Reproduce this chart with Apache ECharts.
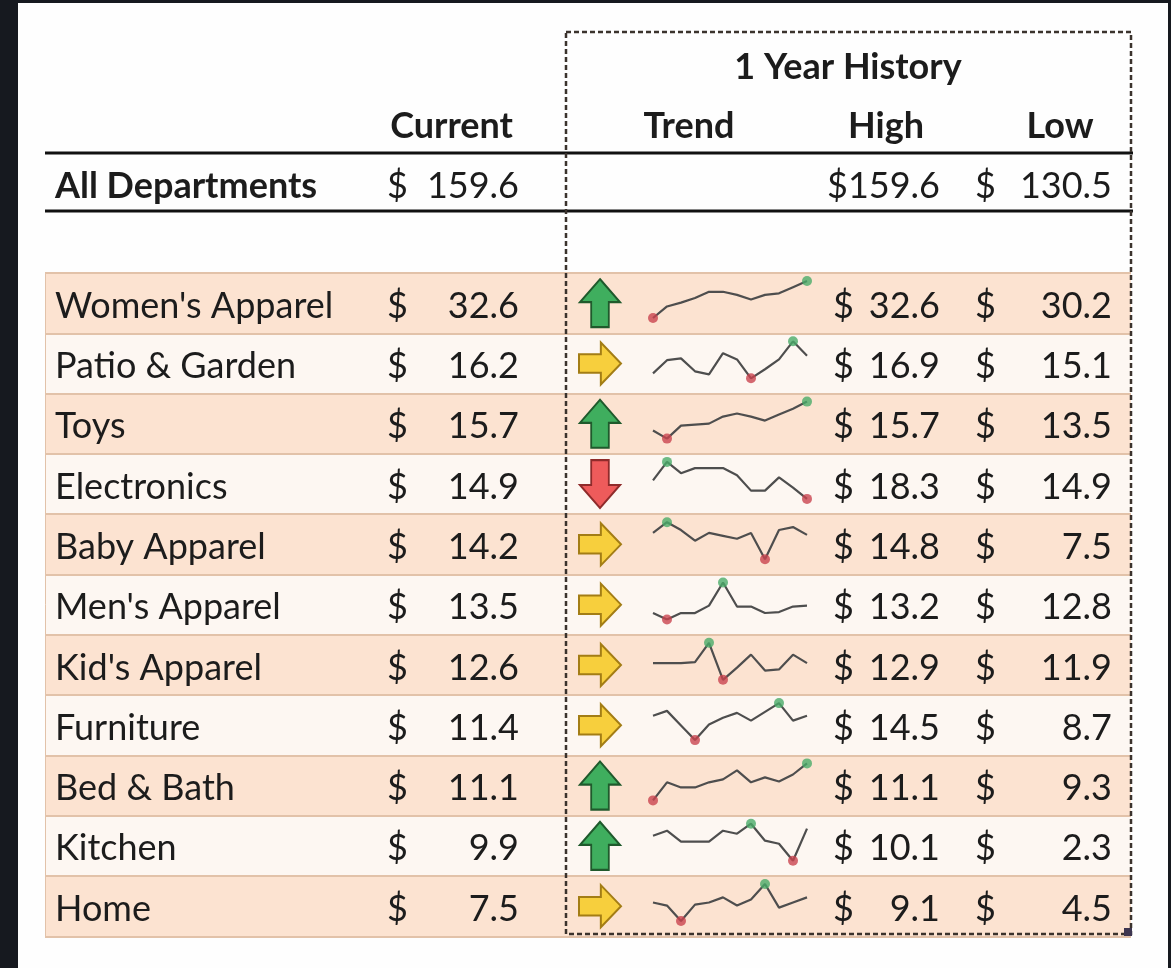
<!DOCTYPE html>
<html>
<head>
<meta charset="utf-8">
<script src="https://cdn.jsdelivr.net/npm/echarts@6/dist/echarts.min.js"></script>
<style>
html, body { margin: 0; padding: 0; background: #16191f; }
#wrap { position: relative; width: 1171px; height: 968px; background: #16191f; }
#paper { position: absolute; left: 18px; top: 3px; width: 1150px; height: 965px; background: #fefefe; }
#main { position: absolute; left: 0; top: 0; width: 1171px; height: 968px; }
</style>
</head>
<body>
<div id="wrap">
    <div id="paper"></div>
    <div id="main"></div>
</div>
<script>
// departments, current value and 1 year high / low
const departments = ["Women's Apparel", 'Patio & Garden', 'Toys', 'Electronics', 'Baby Apparel',
    "Men's Apparel", "Kid's Apparel", 'Furniture', 'Bed & Bath', 'Kitchen', 'Home'];
const current = [32.6, 16.2, 15.7, 14.9, 14.2, 13.5, 12.6, 11.4, 11.1, 9.9, 7.5];
const high = [32.6, 16.9, 15.7, 18.3, 14.8, 13.2, 12.9, 14.5, 11.1, 10.1, 9.1];
const low = [30.2, 15.1, 13.5, 14.9, 7.5, 12.8, 11.9, 8.7, 9.3, 2.3, 4.5];
const trend = ['up', 'right', 'up', 'down', 'right', 'right', 'right', 'right', 'up', 'up', 'right'];
const totalCurrent = 159.6;
const totalHigh = 159.6;
const totalLow = 130.5;

// monthly history (sparklines)
const womensApparel = [30.2, 30.95, 31.2, 31.5, 31.9, 31.9, 31.7, 31.4, 31.7, 31.8, 32.2, 32.6];
const patioGarden = [15.34, 15.98, 16.07, 15.44, 15.29, 16.32, 16.02, 15.1, 15.54, 16.02, 16.9, 16.2];
const toys = [13.98, 13.5, 14.27, 14.33, 14.39, 14.81, 14.99, 14.81, 14.57, 14.93, 15.28, 15.7];
const electronics = [16.6, 18.3, 17.26, 17.73, 17.73, 17.73, 17.07, 15.66, 15.66, 16.88, 15.94, 14.9];
const babyApparel = [12.69, 14.8, 13.26, 11.15, 12.69, 12.11, 11.53, 12.69, 7.5, 13.26, 13.84, 12.3];
const mensApparel = [12.87, 12.8, 12.87, 12.87, 12.95, 13.2, 12.94, 12.94, 12.87, 12.88, 12.94, 12.95];
const kidsApparel = [12.35, 12.35, 12.35, 12.38, 12.9, 11.9, 12.23, 12.58, 12.15, 12.18, 12.58, 12.35];
const furniture = [12.52, 13.28, 10.99, 8.7, 11.14, 12.21, 12.97, 11.75, 13.13, 14.5, 11.75, 12.52];
const bedBath = [9.3, 10.18, 9.93, 9.93, 10.18, 10.32, 10.76, 10.18, 10.42, 10.22, 10.56, 11.1];
const kitchen = [7.57, 8.62, 6.31, 6.31, 6.31, 8.62, 7.99, 10.1, 6.52, 5.88, 2.3, 9.05];
const home = [6.8, 6.42, 4.5, 6.54, 6.8, 7.44, 6.42, 7.18, 9.1, 6.16, 6.8, 7.44];
const history = [womensApparel, patioGarden, toys, electronics, babyApparel, mensApparel,
    kidsApparel, furniture, bedBath, kitchen, home];
const months = ['1', '2', '3', '4', '5', '6', '7', '8', '9', '10', '11', '12'];

const FONT = 'Lato';
const TEXT = '#1c1c1c';
const SIZE = 36;
const tableTop = 273;
const rowH = 60.3;

const arrowShapes = {
    up: 'path://M50,0 L100,48 L72,48 L72,100 L28,100 L28,48 L0,48 Z',
    down: 'path://M28,0 L72,0 L72,52 L100,52 L50,100 L0,52 L28,52 Z',
    right: 'path://M0,28 L52,28 L52,0 L100,50 L52,100 L52,72 L0,72 Z'
};
const arrowStyle = {
    up: { color: '#3fae5e', borderColor: '#1f5a2c', size: [40, 48] },
    down: { color: '#ee5b5b', borderColor: '#8f2b2b', size: [40, 48] },
    right: { color: '#f7cf3d', borderColor: '#a37d15', size: [42, 42] }
};

const myChart = echarts.init(document.getElementById('main'));

const grids = [
    { left: 45, top: tableTop, width: 1086, height: rowH * 11 },
    { left: 575, top: tableTop, width: 50, height: rowH * 11 }
];
const xAxes = [
    { gridIndex: 0, type: 'value', min: 0, max: 1, show: false },
    { gridIndex: 1, type: 'value', min: 0, max: 2, show: false }
];
const yAxes = [
    {
        gridIndex: 0, type: 'category', inverse: true, data: departments,
        axisLine: { show: true, lineStyle: { color: '#e2c2a9', width: 1 } },
        axisTick: { show: false },
        axisLabel: { show: false },
        splitLine: { show: true, lineStyle: { color: '#e2c2a9', width: 2 } },
        splitArea: { show: true, areaStyle: { color: ['#fce3d1', '#fdf7f2'] } }
    },
    { gridIndex: 1, type: 'category', inverse: true, data: departments, show: false }
];
const series = [{
    type: 'scatter', xAxisIndex: 1, yAxisIndex: 1, z: 5,
    data: departments.map((d, i) => ({
        value: [1, i],
        symbol: arrowShapes[trend[i]],
        symbolSize: arrowStyle[trend[i]].size,
        itemStyle: { color: arrowStyle[trend[i]].color, borderColor: arrowStyle[trend[i]].borderColor, borderWidth: 2, opacity: 1 }
    }))
}];

history.forEach((h, i) => {
    const gi = grids.length;
    grids.push({ left: 653, top: tableTop + rowH * i + 8, width: 154, height: 37 });
    xAxes.push({ gridIndex: gi, type: 'category', data: months, boundaryGap: false, show: false });
    yAxes.push({ gridIndex: gi, type: 'value', min: 'dataMin', max: 'dataMax', show: false, scale: true });
    const minV = Math.min(...h), maxV = Math.max(...h);
    const minI = h.indexOf(minV), maxI = h.indexOf(maxV);
    series.push({
        type: 'line', xAxisIndex: gi, yAxisIndex: gi, data: h, symbol: 'none', z: 5,
        lineStyle: { color: '#4e4e4e', width: 2.2 }
    });
    series.push({
        type: 'scatter', xAxisIndex: gi, yAxisIndex: gi, symbolSize: 10, z: 6,
        data: [
            { value: [minI, minV], itemStyle: { color: '#c9434f' } },
            { value: [maxI, maxV], itemStyle: { color: '#4aab69' } }
        ]
    });
});

const txt = (text, x, y, align, bold) => ({
    type: 'text', x: x, y: y, z: 50,
    style: { text: text, fill: TEXT, font: (bold ? 'bold ' : '') + SIZE + 'px ' + FONT, textAlign: align, textVerticalAlign: 'middle' }
});

const graphics = [
    // header rules
    { type: 'line', z: 40, shape: { x1: 45, y1: 153, x2: 1133, y2: 153 }, style: { stroke: '#111', lineWidth: 3 } },
    { type: 'line', z: 40, shape: { x1: 45, y1: 211, x2: 1133, y2: 211 }, style: { stroke: '#111', lineWidth: 3 } },
    // dashed outline around 1 year history
    { type: 'rect', z: 45, shape: { x: 566, y: 32, width: 565, height: 902 }, style: { fill: null, stroke: '#3b332d', lineWidth: 2.5, lineDash: [5, 3] } },
    { type: 'rect', z: 46, shape: { x: 1124, y: 928, width: 8, height: 8 }, style: { fill: '#3d3550' } },
    txt('1 Year History', 848, 67, 'center', true),
    txt('Current', 513, 126, 'right', true),
    txt('Trend', 689, 126, 'center', true),
    txt('High', 886, 126, 'center', true),
    txt('Low', 1060, 126, 'center', true),
    txt('All Departments', 55, 186, 'left', true),
    txt('$', 387, 186, 'left', false),
    txt(totalCurrent.toFixed(1), 519, 186, 'right', false),
    txt('$' + totalHigh.toFixed(1), 940, 186, 'right', false),
    txt('$', 975, 186, 'left', false),
    txt(totalLow.toFixed(1), 1112, 186, 'right', false)
];
departments.forEach((d, i) => {
    const y = tableTop + rowH * (i + 0.5) + 3;
    graphics.push(txt(d, 55, y, 'left', false));
    graphics.push(txt('$', 387, y, 'left', false));
    graphics.push(txt(current[i].toFixed(1), 519, y, 'right', false));
    graphics.push(txt('$', 833, y, 'left', false));
    graphics.push(txt(high[i].toFixed(1), 940, y, 'right', false));
    graphics.push(txt('$', 975, y, 'left', false));
    graphics.push(txt(low[i].toFixed(1), 1112, y, 'right', false));
});

const option = {
    animation: false,
    grid: grids,
    xAxis: xAxes,
    yAxis: yAxes,
    series: series,
    graphic: graphics
};
myChart.setOption(option);
</script>
</body>
</html>
